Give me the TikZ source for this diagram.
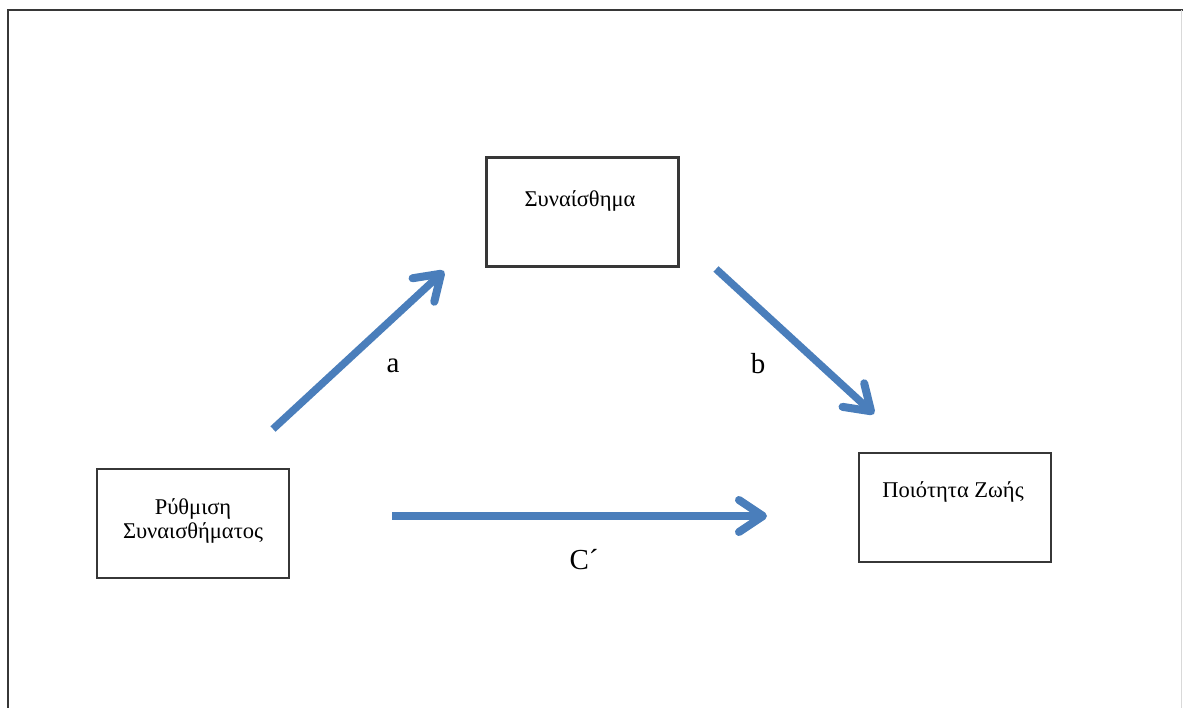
\documentclass[tikz,border=0pt]{standalone}
\usepackage{fontspec}
\setmainfont{Liberation Serif}
\usetikzlibrary{arrows.meta}
\definecolor{ab}{RGB}{74, 126, 187}
\definecolor{fr}{RGB}{55, 55, 55}

\begin{document}
\begin{tikzpicture}[box/.style={draw=fr, line width=2.2pt, minimum width=192pt, minimum height=109pt, inner sep=0pt},
  arr/.style={draw=ab, line width=7.5pt, -{Straight Barb[length=24pt, width=32pt, line width=8pt, line cap=round, line join=round]}},
  lbl/.style={font=\fontsize{29}{32}\selectfont, inner sep=0pt},
  txt/.style={font=\fontsize{22.5}{24}\selectfont, inner sep=0pt}]
\useasboundingbox (0pt, 0pt) rectangle (1183pt, -708pt);
% outer frame
\draw [line width=2pt, color=fr] (8pt, -708pt) -- (8pt, -10pt) -- (1183pt, -10pt);
\draw [line width=1pt, color=black!15] (1181.5pt, -10pt) -- (1181.5pt, -708pt);
% boxes
\node (1) [box] at (193pt, -523.5pt) {};
\node (2) [box] at (582.5pt, -212pt) {};
\node (3) [box] at (955pt, -507.5pt) {};
\node [txt, align=center] at (193pt, -521pt) {Ρύθμιση\\Συναισθήματος};
\node [txt] at (580pt, -201pt) {Συναίσθημα};
\node [txt] at (953pt, -492pt) {Ποιότητα Ζωής};
% arrow ends
\coordinate (a1) at (273pt, -429pt);
\coordinate (a2) at (444pt, -271pt);
\coordinate (b1) at (716pt, -269pt);
\coordinate (b2) at (874pt, -414pt);
\coordinate (c1) at (392pt, -516pt);
\coordinate (c2) at (767pt, -516pt);
\draw [arr] (a1) -- (a2);
\draw [arr] (b1) -- (b2);
\draw [arr] (c1) -- (c2);
\node [lbl] at (393pt, -366pt) {a};
\node [lbl] at (758pt, -364pt) {b};
\node [lbl] at (584pt, -560pt) {C´};
\end{tikzpicture}
\end{document}
